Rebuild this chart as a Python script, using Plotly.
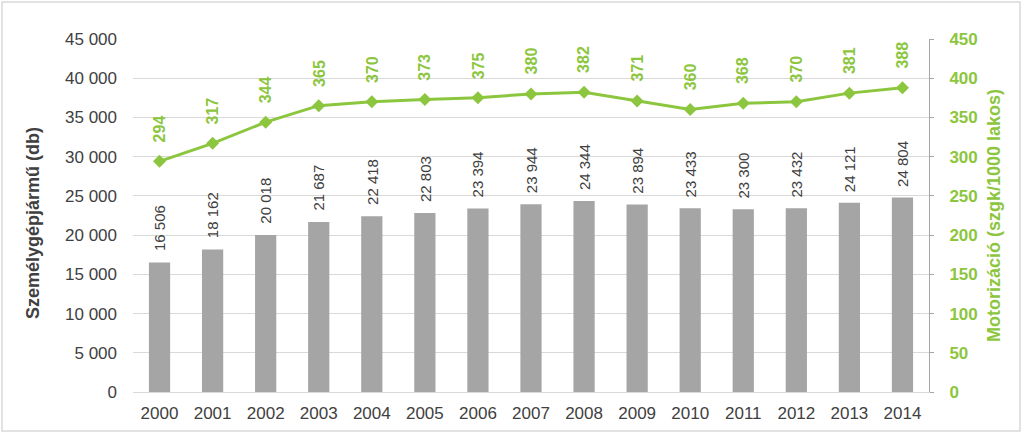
import plotly.graph_objects as go

years = [str(y) for y in range(2000, 2015)]
cars = [16506, 18162, 20018, 21687, 22418, 22803, 23394, 23944, 24344, 23894, 23433, 23300, 23432, 24121, 24804]
motor = [294, 317, 344, 365, 370, 373, 375, 380, 382, 371, 360, 368, 370, 381, 388]
left_ticks = list(range(0, 45001, 5000))
right_ticks = list(range(0, 451, 50))

GREEN = "#8cc63e"
GRAY_BAR = "#a5a5a5"
TXT = "#404040"
FONT = "Liberation Sans, Arial, sans-serif"

W, H = 1023, 434
L, R, T, B = 133, 94, 39, 42
pw, ph = W - L - R, H - T - B

def fmt(v):
    return f"{v:,}".replace(",", " ")

fig = go.Figure()
fig.add_trace(go.Bar(
    x=years, y=cars, marker=dict(color=GRAY_BAR, line=dict(width=0)),
    name="Személygépjármű", yaxis="y",
))
fig.add_trace(go.Scatter(
    x=years, y=motor, mode="lines+markers", yaxis="y2",
    line=dict(color=GREEN, width=3),
    marker=dict(symbol="diamond", size=10, color=GREEN),
    name="Motorizáció", cliponaxis=False,
))

annotations = []
for i, v in enumerate(cars):
    annotations.append(dict(
        x=i, y=v, xref="x", yref="y", text=fmt(v), showarrow=False,
        textangle=-90, yanchor="bottom", xanchor="center", yshift=9,
        font=dict(family=FONT, size=15, color=TXT),
    ))
for i, v in enumerate(motor):
    annotations.append(dict(
        x=i, y=v, xref="x", yref="y2", text="<b>%d</b>" % v, showarrow=False,
        textangle=-90, yanchor="bottom", xanchor="center", yshift=17,
        font=dict(family=FONT, size=16, color=GREEN),
    ))
annotations.append(dict(
    x=(33 - L) / pw, y=(T + ph - 223) / ph, xref="paper", yref="paper",
    text="<b>Személygépjármű (db)</b>", showarrow=False, textangle=-90,
    xanchor="center", yanchor="middle",
    font=dict(family=FONT, size=18, color=TXT),
))
annotations.append(dict(
    x=(994 - L) / pw, y=(T + ph - 216) / ph, xref="paper", yref="paper",
    text="<b>Motorizáció (szgk/1000 lakos)</b>", showarrow=False, textangle=-90,
    xanchor="center", yanchor="middle",
    font=dict(family=FONT, size=18, color=GREEN),
))

fig.update_layout(
    width=W, height=H, margin=dict(l=L, r=R, t=T, b=B),
    paper_bgcolor="white", plot_bgcolor="white", showlegend=False,
    bargap=0.6, separators=", ",
    font=dict(family=FONT),
    xaxis=dict(type="category", range=[-0.5, len(years) - 0.5], showgrid=False,
               showline=True, linecolor="#d9d9d9", linewidth=1,
               ticks="", tickfont=dict(size=17, color=TXT), ticklabelstandoff=6),
    yaxis=dict(range=[0, 45000], tickvals=left_ticks, ticktext=[fmt(v) for v in left_ticks],
               showgrid=True, gridcolor="#d9d9d9", gridwidth=1, zeroline=False,
               showline=False, ticks="", tickfont=dict(size=17, color=TXT),
               ticklabelstandoff=15),
    yaxis2=dict(range=[0, 450], tickvals=right_ticks, overlaying="y", side="right",
                showgrid=False, zeroline=False, showline=True, linecolor="#a6a6a6",
                linewidth=1, ticks="outside", ticklen=4, tickcolor="#a6a6a6",
                tickfont=dict(size=17, color=GREEN, weight="bold"),
                ticklabelstandoff=12),
    annotations=annotations,
    shapes=[dict(type="rect", xref="paper", yref="paper",
                 x0=(2 - L) / pw, x1=(1020 - L) / pw,
                 y0=(T + ph - 431) / ph, y1=(T + ph - 2) / ph,
                 line=dict(color="#d9d9d9", width=1.5), fillcolor="rgba(0,0,0,0)",
                 layer="below")],
)

fig.write_html("out.html")
